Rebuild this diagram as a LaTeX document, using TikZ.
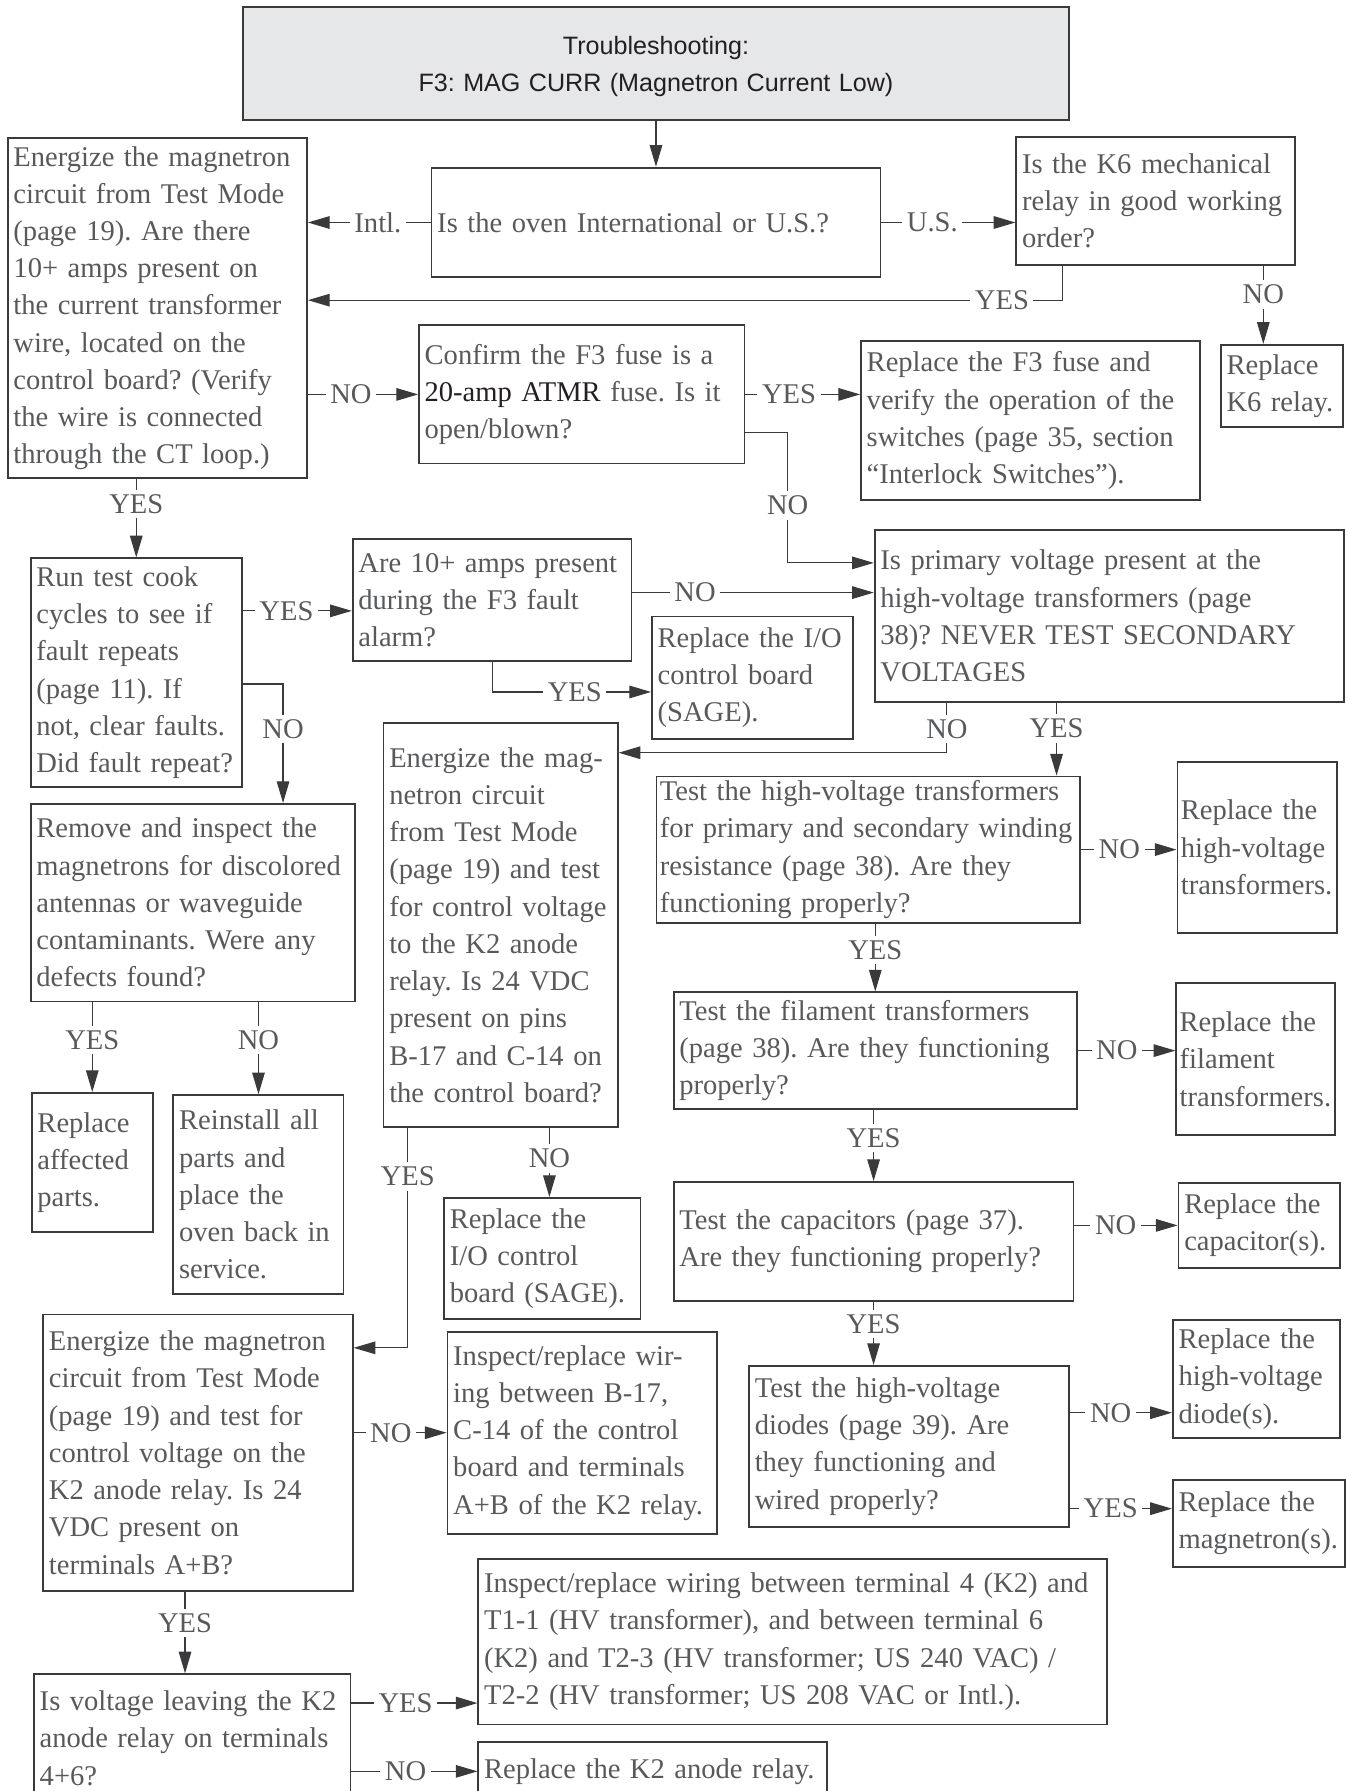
\documentclass[tikz,border=0pt]{standalone}
\usepackage{fontspec}
\setmainfont{Liberation Serif}
\newfontfamily\headfont{Liberation Sans}
\usetikzlibrary{arrows.meta,positioning}
\frenchspacing
\definecolor{inkgray}{HTML}{58595B}
\definecolor{inkdark}{HTML}{231F20}
\definecolor{linegray}{HTML}{3A3A3C}
\definecolor{headfill}{HTML}{E6E7E8}
\tikzset{
  box/.style={draw=linegray, line width=0.8pt, anchor=north west, align=left,
    inner xsep=2.5pt, inner ysep=0pt, text=inkgray,
    font=\fontsize{12.5}{16.3}\selectfont},
  lbl/.style={fill=white, inner sep=2pt, text=inkgray,
    font=\fontsize{12.5}{15}\selectfont},
  arr/.style={draw=linegray, line width=0.5pt, -{Triangle[length=9.5pt,width=5.5pt]}}
}
\begin{document}
\begin{tikzpicture}[x=0.5pt,y=-0.5pt]
  \path[use as bounding box, fill=white] (0,0) rectangle (1178,1568);

  % Header
  \node[box, align=center, fill=headfill, text=inkdark, font=\headfont\fontsize{11}{16}\selectfont,
    text width=356.5pt, minimum height=49.5pt] (head) at (212,5)
    {\rule{0pt}{11pt}Troubleshooting:\\F3: MAG CURR (Magnetron Current Low)};

  % Top row
  \node[box, text width=191.5pt, minimum height=48pt] (oven) at (377,146)
    {Is the oven International or U.S.?};
  \node[box, text width=126pt, minimum height=149pt] (intlq) at (6,120)
    {Energize the magnetron\\circuit from Test Mode\\(page 19). Are there\\10+ amps present on\\the current transformer\\wire, located on the\\control board? (Verify\\the wire is connected\\through the CT loop.)};
  \node[box, text width=117pt, minimum height=56pt] (k6) at (889,119)
    {Is the K6 mechanical\\relay in good working\\order?};
  \node[box, text width=48.5pt, minimum height=36pt] (k6rep) at (1068,301)
    {Replace\\K6 relay.};

  % Fuse check
  \node[box, text width=137.5pt, minimum height=60.5pt] (confirm) at (366,284)
    {Confirm the F3 fuse is a\\{\color{inkdark}20-amp ATMR} fuse. Is it\\open/blown?};
  \node[box, text width=143.5pt, minimum height=69.5pt] (f3rep) at (753,298)
    {Replace the F3 fuse and\\verify the operation of the\\switches (page 35, section\\“Interlock Switches”).};

  % Middle rows
  \node[box, text width=200.5pt, minimum height=75.5pt] (primary) at (765,463)
    {Is primary voltage present at the\\high-voltage transformers (page\\38)? NEVER TEST SECONDARY\\VOLTAGES};
  \node[box, text width=87.5pt, minimum height=100pt] (runtest) at (26,488)
    {Run test cook\\cycles to see if\\fault repeats\\(page 11). If\\not, clear faults.\\Did fault repeat?};
  \node[box, text width=117pt, minimum height=53.5pt] (are10) at (308,471)
    {Are 10+ amps present\\during the F3 fault\\alarm?};
  \node[box, text width=83pt, minimum height=53.5pt] (io1) at (570,539)
    {Replace the I/O\\control board\\(SAGE).};
  \node[box, text width=97.5pt, minimum height=177pt] (enmag) at (335,632)
    {Energize the mag-\\netron circuit\\from Test Mode\\(page 19) and test\\for control voltage\\to the K2 anode\\relay. Is 24 VDC\\present on pins\\B-17 and C-14 on\\the control board?};

  % Transformer chain
  \node[box, inner xsep=1.5pt, text width=182.5pt, minimum height=64pt] (hvtest) at (574,679)
    {Test the high-voltage transformers\\for primary and secondary winding\\resistance (page 38). Are they\\functioning properly?};
  \node[box, inner xsep=1.5pt, text width=67pt, minimum height=75pt] (hvrep) at (1030,666)
    {Replace the\\high-voltage\\transformers.};
  \node[box, text width=171.5pt, minimum height=51pt] (filament) at (589,868)
    {Test the filament transformers\\(page 38). Are they functioning\\properly?};
  \node[box, inner xsep=1.5pt, text width=66.5pt, minimum height=66.5pt] (filrep) at (1029,860)
    {Replace the\\filament\\transformers.};
  \node[box, text width=170pt, minimum height=52pt] (caps) at (589,1034)
    {Test the capacitors (page 37).\\Are they functioning properly?};
  \node[box, text width=65.5pt, minimum height=37pt] (caprep) at (1031,1035)
    {Replace the\\capacitor(s).};
  \node[box, text width=135pt, minimum height=70.5pt] (diodes) at (655,1195)
    {Test the high-voltage\\diodes (page 39). Are\\they functioning and\\wired properly?};
  \node[box, text width=68pt, minimum height=51.5pt] (diorep) at (1026,1155)
    {Replace the\\high-voltage\\diode(s).};
  \node[box, text width=70.5pt, minimum height=38pt] (magrep) at (1026,1295)
    {Replace the\\magnetron(s).};

  % Left column
  \node[box, text width=137pt, minimum height=86.5pt] (remove) at (26,703)
    {Remove and inspect the\\magnetrons for discolored\\antennas or waveguide\\contaminants. Were any\\defects found?};
  \node[box, text width=48pt, minimum height=61pt] (affrep) at (27,956)
    {Replace\\affected\\parts.};
  \node[box, text width=69.5pt, minimum height=87pt] (reinst) at (151,958)
    {Reinstall all\\parts and\\place the\\oven back in\\service.};
  \node[box, text width=81pt, minimum height=53pt] (io2) at (388,1048)
    {Replace the\\I/O control\\board (SAGE).};
  \node[box, text width=130.5pt, minimum height=121pt] (enk2) at (37,1150)
    {Energize the magnetron\\circuit from Test Mode\\(page 19) and test for\\control voltage on the\\K2 anode relay. Is 24\\VDC present on\\terminals A+B?};
  \node[box, text width=113pt, minimum height=88.5pt] (wir) at (391,1165)
    {Inspect/replace wir-\\ing between B-17,\\C-14 of the control\\board and terminals\\A+B of the K2 relay.};

  % Bottom row
  \node[box, text width=133.5pt, minimum height=56pt] (leave) at (29,1465)
    {Is voltage leaving the K2\\anode relay on terminals\\4+6?};
  \node[box, text width=270pt, minimum height=72.5pt] (t4wir) at (418,1364)
    {Inspect/replace wiring between terminal 4 (K2) and\\T1-1 (HV transformer), and between terminal 6\\(K2) and T2-3 (HV transformer; US 240 VAC) /\\T2-2 (HV transformer; US 208 VAC or Intl.).};
  \node[box, text width=147.5pt, minimum height=26pt] (k2rep) at (418,1524)
    {Replace the K2 anode relay.};

  % Connectors: top
  \draw[arr] (head) -- (oven);
  \draw[arr] (oven.west) -- node[lbl,pos=0.43]{Intl.} (oven.west -| intlq.east);
  \draw[arr] (oven.east) -- node[lbl,pos=0.38]{U.S.} (oven.east -| k6.west);
  \coordinate (k6yes) at ([xshift=20.5pt]k6.south west);
  \draw[arr] (k6yes) |- node[lbl,pos=0.54]{YES} ([yshift=3.5pt]intlq.east);
  \coordinate (k6no) at ([xshift=108.5pt]k6.south west);
  \draw[arr] (k6no) -- node[lbl,pos=0.37]{NO} (k6no |- k6rep.north);

  % Connectors: fuse
  \draw[arr] (confirm.west -| intlq.east) -- node[lbl,pos=0.39]{NO} (confirm.west);
  \draw[arr] (confirm.east) -- node[lbl,pos=0.38]{YES} (confirm.east -| f3rep.west);
  \coordinate (cfno) at ([yshift=-16.75pt]confirm.east);
  \draw[arr] (cfno) -- ++(18.5pt,0) |- node[lbl,pos=0.28]{NO} ([yshift=23.25pt]primary.west);

  % Connectors: middle
  \draw[arr] (runtest.north |- intlq.south) -- node[lbl,pos=0.32]{YES} (runtest.north);
  \coordinate (rtyes) at ([yshift=-4.75pt]are10.west);
  \draw[arr] (rtyes -| runtest.east) -- node[lbl,pos=0.4]{YES} (rtyes);
  \draw[arr] ([yshift=-5pt]runtest.east) -| node[lbl,pos=0.69]{NO} ([xshift=39.5pt]remove.north);
  \coordinate (a10no) at ([yshift=3.25pt]are10.east);
  \draw[arr] (a10no) -- node[lbl,pos=0.26]{NO} (a10no -| primary.west);
  \draw[arr] (are10.south) |- node[lbl,pos=0.76]{YES} ([yshift=-6.25pt]io1.west);
  \coordinate (prno) at ([xshift=32pt]primary.south west);
  \draw[arr] (prno) |- node[lbl,pos=0.26]{NO} ([yshift=-13.5pt]enmag.north east);
  \coordinate (pryes) at ([xshift=80pt]primary.south west);
  \draw[arr] (pryes) -- node[lbl,pos=0.35]{YES} (pryes |- hvtest.north);

  % Connectors: transformer chain
  \draw[arr] (hvtest.east) -- node[lbl,pos=0.4]{NO} (hvtest.east -| hvrep.west);
  \draw[arr] (filament.north |- hvtest.south) -- node[lbl,pos=0.39]{YES} (filament.north);
  \draw[arr] (filament.east) -- node[lbl,pos=0.4]{NO} (filament.east -| filrep.west);
  \draw[arr] (caps.north |- filament.south) -- node[lbl,pos=0.4]{YES} (caps.north);
  \draw[arr] (caprep.west -| caps.east) -- node[lbl,pos=0.4]{NO} (caprep.west);
  \draw[arr] (caps.south) -- node[lbl,pos=0.35]{YES} (caps.south |- diodes.north);
  \coordinate (dino) at ([yshift=14.75pt]diodes.east);
  \draw[arr] (dino) -- node[lbl,pos=0.4]{NO} (dino -| diorep.west);
  \coordinate (diyes) at ([yshift=-27.25pt]diodes.east);
  \draw[arr] (diyes) -- node[lbl,pos=0.4]{YES} (diyes -| magrep.west);

  % Connectors: left column
  \draw[arr] (affrep.north |- remove.south) -- node[lbl,pos=0.42]{YES} (affrep.north);
  \draw[arr] (reinst.north |- remove.south) -- node[lbl,pos=0.41]{NO} (reinst.north);
  \coordinate (emyes) at ([xshift=11pt]enmag.south west);
  \draw[arr] (emyes) |- node[lbl,pos=0.11]{YES} ([yshift=-15pt]enk2.north east);
  \coordinate (emno) at ([xshift=73pt]enmag.south west);
  \draw[arr] (emno) -- node[lbl,pos=0.44]{NO} (emno |- io2.north);
  \draw[arr] (wir.west -| enk2.east) -- node[lbl,pos=0.4]{NO} (wir.west);
  \coordinate (ekyes) at ([xshift=62.5pt]enk2.south west);
  \draw[arr] (ekyes) -- node[lbl,pos=0.38]{YES} (ekyes |- leave.north);

  % Connectors: bottom
  \coordinate (lvyes) at ([yshift=-13pt]leave.north east);
  \draw[arr] (lvyes) -- node[lbl,pos=0.43]{YES} (lvyes -| t4wir.west);
  \draw[arr] (k2rep.west -| leave.east) -- node[lbl,pos=0.43]{NO} (k2rep.west);
\end{tikzpicture}
\end{document}
